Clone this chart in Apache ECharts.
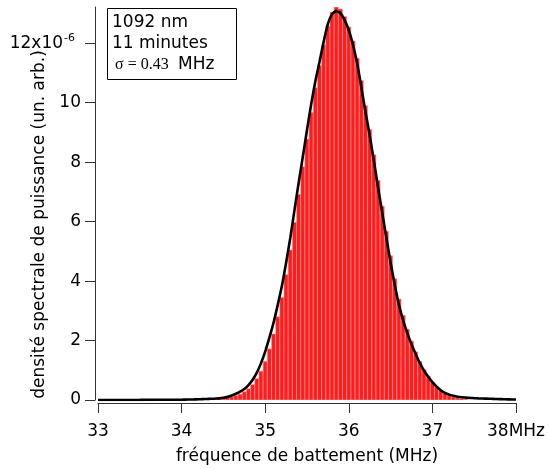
<!DOCTYPE html>
<html>
<head>
<meta charset="utf-8">
<script src="https://cdn.jsdelivr.net/npm/echarts@6/dist/echarts.min.js"></script>
<style>
html,body{margin:0;padding:0;background:#fff;}
#chart{width:549px;height:469px;}
</style>
</head>
<body>
<div id="chart"></div>
<script>
// ---- data ----
const xTicks = [33, 34, 35, 36, 37, 38];
const yTicks = [0, 2, 4, 6, 8, 10, 12];

// histogram bin centres (MHz) and heights (x10^-6)
const histFreq = [34.30,34.35,34.40,34.45,34.50,34.55,34.60,34.65,34.70,34.75,
  34.80,34.85,34.90,34.95,35.00,35.05,35.10,35.15,35.20,35.25,
  35.30,35.35,35.40,35.45,35.50,35.55,35.60,35.65,35.70,35.75,
  35.80,35.85,35.90,35.95,36.00,36.05,36.10,36.15,36.20,36.25,
  36.30,36.35,36.40,36.45,36.50,36.55,36.60,36.65,36.70,36.75,
  36.80,36.85,36.90,36.95,37.00,37.05,37.10,37.15,37.20,37.25,
  37.30,37.35,37.40];
const histValues = [0.02,0.03,0.04,0.05,0.06,0.08,0.11,0.15,0.20,0.28,
  0.38,0.52,0.72,0.97,1.30,1.72,2.22,2.80,3.45,4.22,
  5.05,5.98,6.92,7.85,8.78,9.68,10.50,11.25,11.95,12.58,
  13.05,13.22,13.15,12.90,12.55,12.08,11.50,10.75,9.90,9.10,
  8.25,7.38,6.52,5.68,4.85,4.08,3.40,2.85,2.38,1.98,
  1.62,1.30,1.02,0.80,0.60,0.44,0.32,0.22,0.15,0.10,
  0.07,0.05,0.03];

// fitted curve (MHz, x10^-6)
const curveFreq = [33.0,33.5,34.00,34.05,34.10,34.15,34.20,34.25,34.30,34.35,
  34.40,34.45,34.50,34.55,34.60,34.65,34.70,34.75,34.80,34.85,
  34.90,34.95,35.00,35.05,35.10,35.15,35.20,35.25,35.30,35.35,
  35.40,35.45,35.50,35.55,35.60,35.65,35.70,35.75,35.80,35.85,
  35.90,35.95,36.00,36.05,36.10,36.15,36.20,36.25,36.30,36.35,
  36.40,36.45,36.50,36.55,36.60,36.65,36.70,36.75,36.80,36.85,
  36.90,36.95,37.00,37.05,37.10,37.15,37.20,37.25,37.30,37.35,
  37.40,37.45,37.50,37.55,37.60,37.65,37.70,37.75,37.80,37.85,
  37.90,37.95,38.00];
const curveValues = [0.0,0.003,0.010,0.013,0.016,0.020,0.025,0.030,0.035,0.040,
  0.047,0.055,0.075,0.105,0.15,0.21,0.28,0.37,0.50,0.68,
  0.92,1.24,1.63,2.10,2.60,3.20,3.84,4.62,5.45,6.38,
  7.30,8.18,9.08,9.95,10.72,11.38,12.06,12.65,12.98,13.08,
  13.01,12.78,12.44,11.95,11.33,10.52,9.68,8.90,8.04,7.15,
  6.30,5.45,4.62,3.87,3.20,2.68,2.25,1.88,1.55,1.24,
  0.99,0.78,0.60,0.45,0.33,0.24,0.18,0.14,0.11,0.09,
  0.08,0.07,0.062,0.055,0.05,0.045,0.04,0.035,0.03,0.026,
  0.022,0.019,0.016];

const binWidth = 0.05;
const FONT = 'DejaVu Sans';

const chart = echarts.init(document.getElementById('chart'), null, {renderer: 'canvas'});

const option = {
  animation: false,
  backgroundColor: '#ffffff',
  grid: {left: 98, right: 33, top: 7, bottom: 69, containLabel: false, outerBoundsMode: 'none'},
  xAxis: {
    type: 'value', min: 33, max: 38, interval: 1, offset: 3,
    name: 'fréquence de battement (MHz)', nameLocation: 'middle', nameGap: 45,
    nameMoveOverlap: false,
    nameTextStyle: {fontFamily: FONT, fontSize: 17, color: '#000'},
    axisLine: {show: true, onZero: false, lineStyle: {color: '#333', width: 1}},
    axisTick: {show: true, inside: false, length: 10, lineStyle: {color: '#333'}, customValues: xTicks},
    axisLabel: {fontFamily: FONT, fontSize: 17, color: '#000', margin: 20, customValues: xTicks,
      formatter: v => v === 38 ? '38MHz' : String(v)},
    splitLine: {show: false}
  },
  yAxis: {
    type: 'value', min: 0, max: 13.22, interval: 2, offset: 3,
    name: 'densité spectrale de puissance (un. arb.)', nameLocation: 'middle', nameGap: 47,
    nameMoveOverlap: false,
    nameTextStyle: {fontFamily: FONT, fontSize: 17, color: '#000', padding: [0, 42, 0, 0]},
    axisLine: {show: true, lineStyle: {color: '#333', width: 1}},
    axisTick: {show: true, inside: false, length: 10, lineStyle: {color: '#333'}, customValues: yTicks},
    axisLabel: {fontFamily: FONT, fontSize: 17, color: '#000', margin: 14, customValues: yTicks,
      formatter: v => v === 12 ? '{n|12x10}{s|-6}' : '{n|' + v + '}',
      rich: {
        n: {fontFamily: FONT, fontSize: 17, color: '#000'},
        s: {fontFamily: FONT, fontSize: 11, color: '#000', verticalAlign: 'top', padding: [0, 6, 10, 1]}
      }},
    splitLine: {show: false}
  },
  series: [
    {
      type: 'custom',
      clip: true,
      data: histFreq.map((f, i) => [f, histValues[i]]),
      renderItem: function (params, api) {
        const f = api.value(0), v = api.value(1);
        const p0 = api.coord([f - binWidth / 2, v]);
        const p1 = api.coord([f + binWidth / 2, 0]);
        return {
          type: 'rect',
          shape: {x: p0[0], y: p0[1], width: p1[0] - p0[0], height: p1[1] - p0[1]},
          style: {fill: '#ff1c1c', stroke: '#ffa0a0', lineWidth: 0.6}
        };
      },
      z: 2
    },
    {
      type: 'line',
      data: curveFreq.map((f, i) => [f, curveValues[i]]),
      showSymbol: false, symbol: 'none',
      smooth: 0.2,
      lineStyle: {color: '#000', width: 2.6},
      z: 3
    }
  ],
  graphic: [
    {type: 'rect', left: 107, top: 8, shape: {width: 129, height: 71},
      style: {fill: '#fff', stroke: '#000', lineWidth: 1}, z: 10},
    {type: 'text', left: 112, top: 14, z: 11,
      style: {text: '1092 nm', fontFamily: FONT, fontSize: 17, fill: '#000'}},
    {type: 'text', left: 112, top: 35, z: 11,
      style: {text: '11 minutes', fontFamily: FONT, fontSize: 17, fill: '#000'}},
    {type: 'text', left: 115, top: 57, z: 11,
      style: {text: 'σ = 0.43', fontFamily: 'Liberation Serif', fontSize: 16, fill: '#000'}},
    {type: 'text', left: 178, top: 56, z: 11,
      style: {text: 'MHz', fontFamily: FONT, fontSize: 17, fill: '#000'}}
  ]
};
chart.setOption(option);
</script>
</body>
</html>
